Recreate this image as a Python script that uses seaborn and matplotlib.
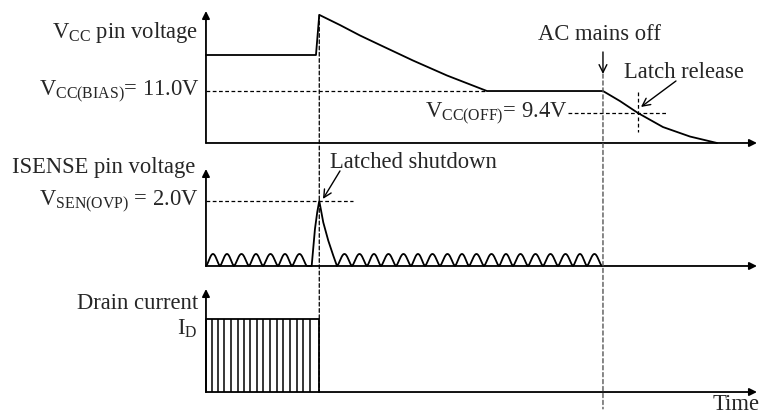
import numpy as np
import matplotlib
matplotlib.use("Agg")
import matplotlib.pyplot as plt
from matplotlib.patches import ConnectionPatch
import seaborn as sns

# ---------------------------------------------
# Data (time in arbitrary units, 0 = start of the traces)
# ---------------------------------------------
T_MAX = 551
T_LATCH = 113.3      # latched shutdown instant
T_ACOFF = 397        # AC mains off instant

# VCC pin voltage (V)
vcc_t = [0, 110, 113.3, 134, 154, 174, 207, 241, 281, 397, 414, 432, 457, 484, 511]
vcc_v = [13.62, 13.62, 16.54, 15.8, 15.04, 14.35, 13.22, 12.13, 11.0, 11.0,
         10.27, 9.4, 8.38, 7.69, 7.22]
VCC_BIAS = 11.0
VCC_OFF = 9.4
T_RELEASE = 432

# ISENSE pin voltage (V)
ripple_cusps_before = [0, 14, 28, 43, 57, 72, 86, 101]
ripple_cusps_after = [131, 146, 161, 175, 190, 205, 219, 234, 249, 263, 278,
                      293, 307, 322, 337, 352, 367, 381, 396]
RIPPLE_H = 0.37
spike_t = [105.7, 109, 111.3, 113.3, 117.3, 122.3, 127.3, 131]
spike_v = [0, 1.14, 1.66, 2.0, 1.34, 0.78, 0.32, 0]
VSEN_OVP = 2.0

# Drain current (normalised to I_D)
drain_t = [0, 0, T_LATCH, T_LATCH]
drain_i = [0, 1, 1, 0]
pulse_t = [5.7, 11.7, 18.3, 25, 31.7, 38.3, 44, 50.7, 57.3, 64, 70.7, 77.3,
           84, 90.7, 97.3, 104]

# ---------------------------------------------
# Style
# ---------------------------------------------
sns.set_style("white")
plt.rcParams["font.family"] = ["Liberation Serif", "DejaVu Serif"]
plt.rcParams["mathtext.fontset"] = "custom"
plt.rcParams["mathtext.rm"] = "Liberation Serif"
plt.rcParams["mathtext.it"] = "Liberation Serif:italic"
plt.rcParams["mathtext.bf"] = "Liberation Serif:bold"

FS = 16.3
LW = 1.3
DASH = (0, (3, 2))

fig = plt.figure(figsize=(7.62, 4.14), dpi=100)
ax1 = fig.add_axes([0.2703, 0.6522, 0.7231, 0.3188])
ax2 = fig.add_axes([0.2703, 0.3551, 0.7231, 0.2343])
ax3 = fig.add_axes([0.2703, 0.0507, 0.7231, 0.2488])


def axis_arrows(ax):
    for sp in ax.spines.values():
        sp.set_visible(False)
    ax.set_xticks([])
    ax.set_yticks([])
    ax.set_facecolor("none")
    kw = dict(arrowstyle="-|>", color="black", lw=LW, mutation_scale=11,
              shrinkA=0, shrinkB=0)
    ax.annotate("", xy=(0, 1), xytext=(0, 0), xycoords="axes fraction",
                arrowprops=kw)
    ax.annotate("", xy=(1, 0), xytext=(0, 0), xycoords="axes fraction",
                arrowprops=kw)


for ax in (ax1, ax2, ax3):
    ax.set_xlim(0, T_MAX)
    axis_arrows(ax)

ax1.set_ylim(7.22, 16.82)
ax2.set_ylim(0, 2.98)
ax3.set_ylim(0, 1.41)

# --- VCC panel ---
sns.lineplot(x=vcc_t, y=vcc_v, ax=ax1, color="black", lw=LW,
             estimator=None, sort=False, clip_on=False)
ax1.plot([0, 281], [VCC_BIAS, VCC_BIAS], color="black", lw=0.9, ls=DASH)
ax1.plot([362, 461], [VCC_OFF, VCC_OFF], color="black", lw=0.9, ls=DASH)
ax1.plot([T_RELEASE, T_RELEASE], [10.93, 8.02], color="black", lw=0.9, ls=DASH)

ax1.text(-8, 15.36, r"V$_{\mathrm{CC}}$ pin voltage", ha="right", va="center", fontsize=FS)
ax1.text(-6, VCC_BIAS, r"V$_{\mathrm{CC(BIAS)}}$= 11.0V", ha="right", va="center", fontsize=FS)
ax1.text(362, VCC_OFF, r"V$_{\mathrm{CC(OFF)}}$= 9.4V", ha="right", va="center", fontsize=FS)
ax1.text(394, 15.15, "AC mains off", ha="center", va="center", fontsize=FS)
ax1.annotate("", xy=(T_ACOFF, 12.24), xytext=(T_ACOFF, 13.84),
             arrowprops=dict(arrowstyle="->", color="black", lw=1.0,
                             mutation_scale=14, shrinkA=0, shrinkB=0))
ax1.text(478, 12.45, "Latch release", ha="center", va="center", fontsize=FS)
ax1.annotate("", xy=(435, 9.84), xytext=(470, 11.73),
             arrowprops=dict(arrowstyle="->", color="black", lw=1.0,
                             mutation_scale=14, shrinkA=0, shrinkB=0))

# --- ISENSE panel ---
# one ripple hump between each pair of neighbouring cusps
arch = np.sin(np.linspace(0, np.pi, 20)) ** 1.5
is_t, is_v = [], []
for a, b in zip(ripple_cusps_before[:-1], ripple_cusps_before[1:]):
    is_t += list(np.linspace(a, b, 20))
    is_v += list(RIPPLE_H * arch)
is_t += spike_t
is_v += spike_v
for a, b in zip(ripple_cusps_after[:-1], ripple_cusps_after[1:]):
    is_t += list(np.linspace(a, b, 20))
    is_v += list(RIPPLE_H * arch)
sns.lineplot(x=is_t, y=is_v, ax=ax2, color="black", lw=LW,
             estimator=None, sort=False, clip_on=False)
ax2.plot([0, 147], [VSEN_OVP, VSEN_OVP], color="black", lw=0.9, ls=DASH)

ax2.text(-11, 3.05, "ISENSE pin voltage", ha="right", va="center", fontsize=FS)
ax2.text(-7, VSEN_OVP, r"V$_{\mathrm{SEN(OVP)}}$ = 2.0V", ha="right", va="center", fontsize=FS)
ax2.text(124, 3.2, "Latched shutdown", ha="left", va="center", fontsize=FS)
ax2.annotate("", xy=(117, 2.06), xytext=(134, 2.92), annotation_clip=False,
             arrowprops=dict(arrowstyle="->", color="black", lw=1.0,
                             mutation_scale=14, shrinkA=0, shrinkB=0))

# --- Drain current panel ---
sns.lineplot(x=drain_t, y=drain_i, ax=ax3, color="black", lw=LW,
             estimator=None, sort=False, clip_on=False)
ax3.vlines(pulse_t, 0, 1, color="black", lw=1.1)
ax3.text(-8, 1.22, "Drain current", ha="right", va="center", fontsize=FS)
ax3.text(-8, 1.03, r"I$_{\mathrm{D}}$", ha="right", va="top", fontsize=FS)
ax3.text(554, -0.16, "Time", ha="right", va="center", fontsize=FS)

# --- vertical dashed markers across the panels ---
fig.add_artist(ConnectionPatch(xyA=(T_LATCH, 16.54), coordsA=ax1.transData,
                               xyB=(T_LATCH, 0), coordsB=ax3.transData,
                               color="black", lw=0.9, ls=DASH))
fig.add_artist(ConnectionPatch(xyA=(T_ACOFF, 12.24), coordsA=ax1.transData,
                               xyB=(T_ACOFF, -0.23), coordsB=ax3.transData,
                               color="#555555", lw=1.0, ls=DASH))

fig.savefig("out.png", dpi=100)
